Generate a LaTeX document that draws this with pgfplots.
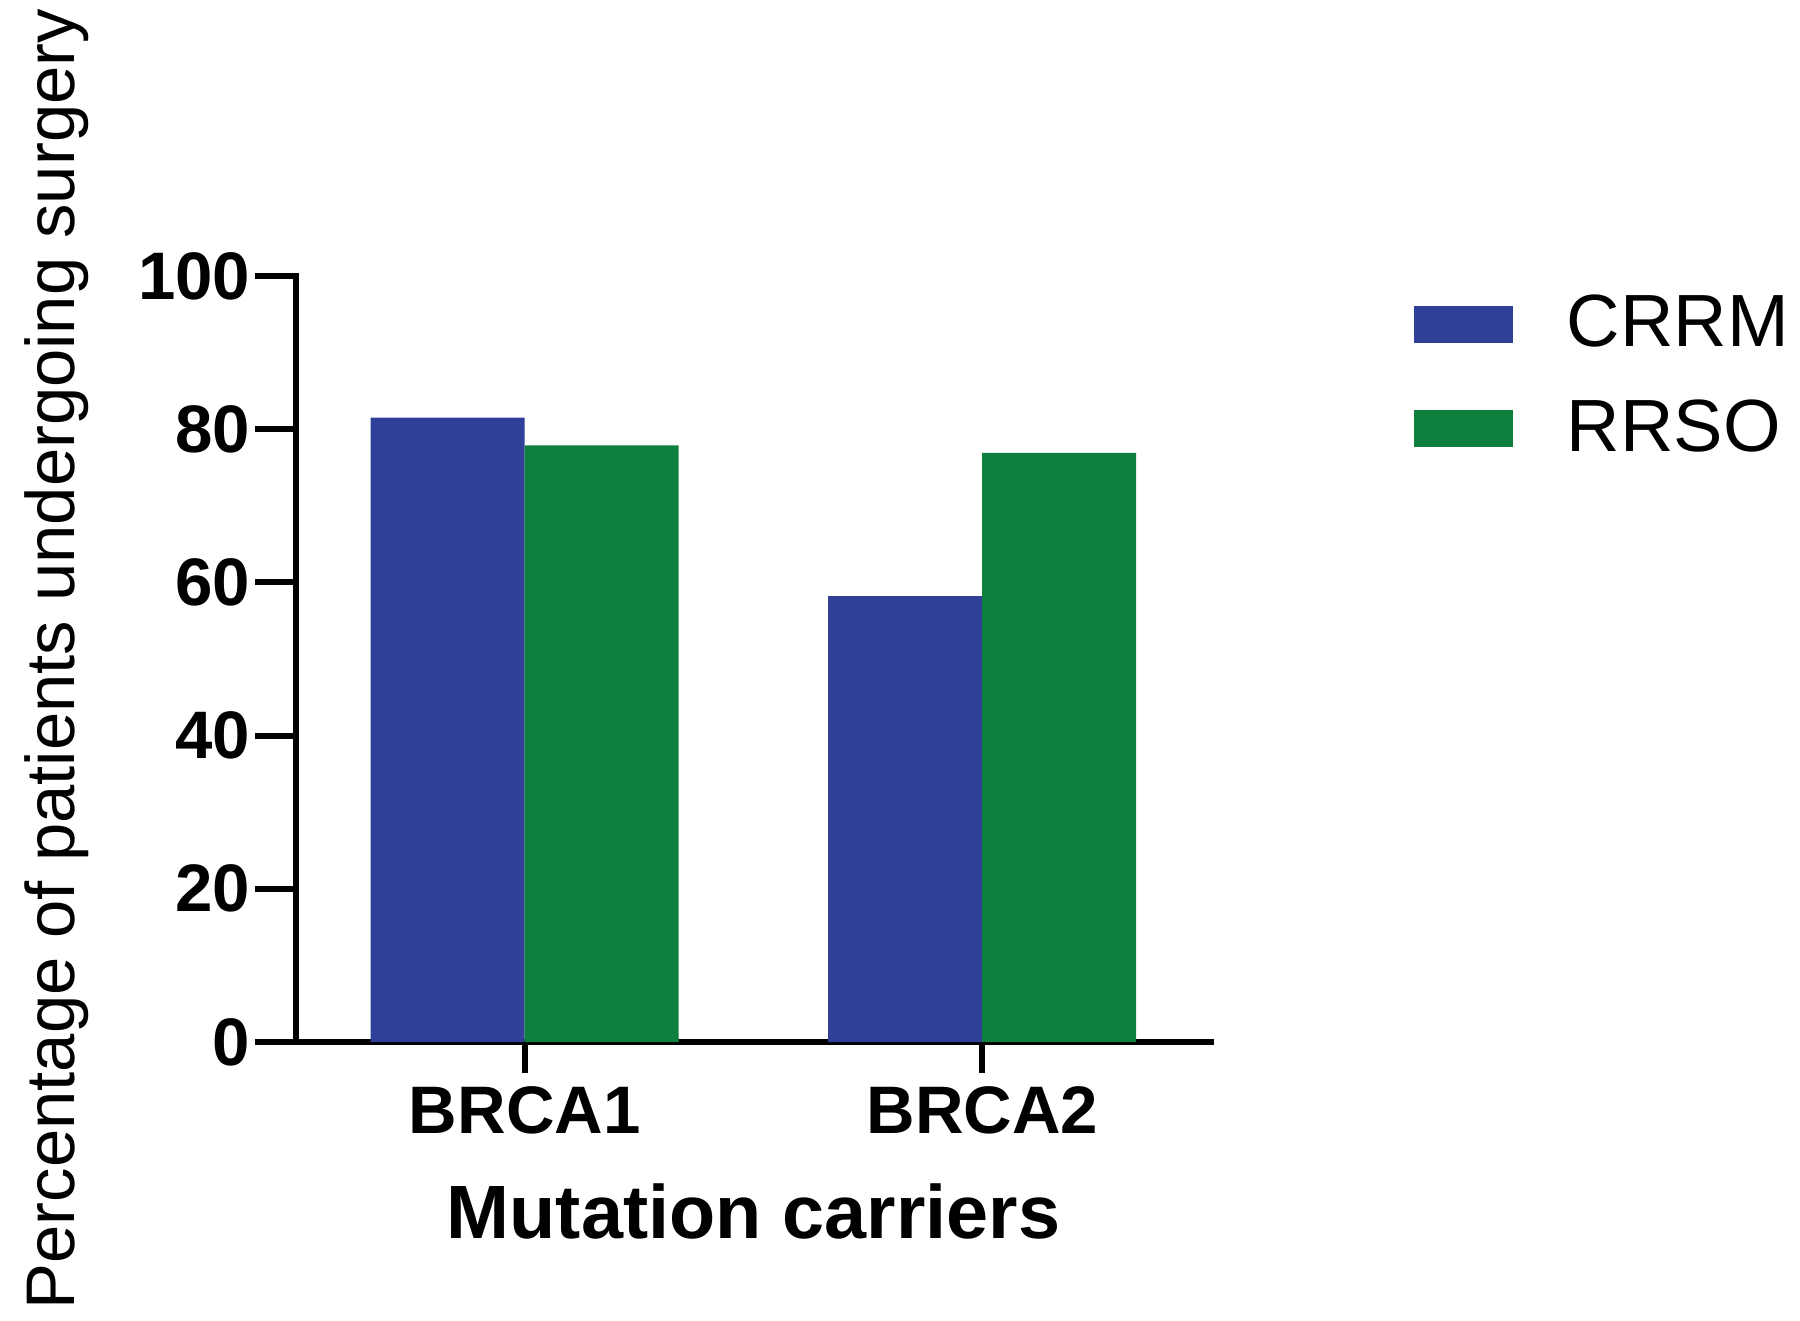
\documentclass[border=0pt]{standalone}
\usepackage{pgfplots}
\pgfplotsset{compat=1.18}
\usepackage{fontspec}
\setmainfont{Liberation Sans}
\definecolor{crrm}{RGB}{48,64,152}
\definecolor{rrso}{RGB}{14,128,62}
\begin{document}
\begin{tikzpicture}
\path[use as bounding box] (0,0) rectangle (450pt,330pt);
\begin{axis}[
  at={(74pt,69.5pt)}, anchor=south west,
  scale only axis, width=228.75pt, height=191.5pt,
  xmin=-0.5, xmax=1.5, ymin=0, ymax=100,
  axis x line*=bottom, axis y line*=left,
  axis line style={line width=1.5pt, line cap=rect},
  tick align=outside,
  major tick length=10.25pt,
  tick style={line width=1.5pt, black},
  xtick style={/pgfplots/major tick length=7.75pt},
  xtick={0,1}, xticklabels={BRCA1,BRCA2},
  ytick={0,20,40,60,80,100},
  /pgf/number format/assume math mode=true,
  tick label style={font=\bfseries\fontsize{16.8}{20}\selectfont},
  yticklabel style={inner sep=1pt},
  xticklabel style={yshift=2.6pt},
  xlabel={Mutation carriers},
  xlabel style={font=\bfseries\fontsize{18.9}{22}\selectfont, at={(rel axis cs:0.5,-0.2206)}, anchor=center},
  ylabel={Percentage of patients undergoing surgery},
  ylabel style={font=\fontsize{17.2}{20}\selectfont, at={(rel axis cs:-0.2612,0.5)}, anchor=center},
  ybar=0pt, bar width=38.5pt,
  legend style={at={(rel axis cs:1.208,0.869)}, anchor=west, draw=none, fill=none,
    font=\fontsize{18.5}{22}\selectfont, row sep=11.7pt,
    nodes={inner sep=0pt},
    /tikz/every odd column/.append style={column sep=13.5pt}},
  legend cell align=left,
  legend image code/.code={\fill[#1] (0pt,-4.6pt) rectangle (24.7pt,4.6pt);},
]
\addplot[fill=crrm, draw=none] coordinates {(0,81.5) (1,58.2)};
\addplot[fill=rrso, draw=none] coordinates {(0,77.9) (1,76.9)};
\legend{CRRM,RRSO}
\end{axis}
\end{tikzpicture}
\end{document}
